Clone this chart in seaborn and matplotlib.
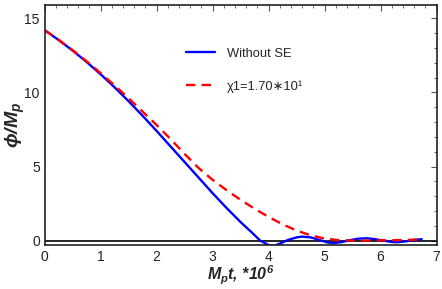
import numpy as np
import pandas as pd
import matplotlib
matplotlib.use('Agg')
import matplotlib.pyplot as plt
from matplotlib.ticker import MultipleLocator
import seaborn as sns

# values (t in units of 1e6 / M_p)
t_blue = [0, 0.25, 0.5, 0.75, 1.0, 1.25, 1.5, 1.75, 2.0, 2.25, 2.5, 2.75, 3.0, 3.25,
          3.5, 3.7, 3.85, 4.0, 4.1, 4.2, 4.35, 4.5, 4.6, 4.75, 4.9, 5.05, 5.15, 5.3,
          5.45, 5.6, 5.75, 5.9, 6.05, 6.2, 6.3, 6.45, 6.6, 6.75]
phi_blue = [14.2, 13.53, 12.82, 12.05, 11.22, 10.34, 9.4, 8.42, 7.4, 6.35, 5.3, 4.25,
            3.2, 2.2, 1.25, 0.55, 0.0, -0.3, -0.35, -0.2, 0.05, 0.22, 0.27, 0.22, 0.05,
            -0.12, -0.17, -0.1, 0.03, 0.13, 0.16, 0.1, 0.0, -0.09, -0.11, -0.05, 0.05, 0.1]

t_red = [0, 0.25, 0.5, 0.75, 1.0, 1.25, 1.5, 1.75, 2.0, 2.25, 2.5, 2.75, 3.0, 3.25,
         3.5, 3.75, 4.0, 4.25, 4.5, 4.75, 5.0, 5.25, 5.5, 5.75, 6.0, 6.25, 6.5, 6.75]
phi_red = [14.2, 13.55, 12.85, 12.1, 11.3, 10.47, 9.6, 8.7, 7.8, 6.85, 5.85, 4.9, 4.1,
           3.4, 2.75, 2.15, 1.6, 1.1, 0.68, 0.36, 0.14, 0.03, 0.0, 0.0, 0.02, 0.03, 0.05, 0.08]

labels = ['Without SE', 'χ1=1.70∗10¹']
colors = ['#0000ff', '#ff0000']

df = pd.concat([
    pd.DataFrame({'t': t_blue, 'phi': phi_blue, 'case': labels[0]}),
    pd.DataFrame({'t': t_red, 'phi': phi_red, 'case': labels[1]}),
])

sns.set_theme(style='white')
plt.rcParams['font.family'] = ['Liberation Sans', 'DejaVu Sans']
plt.rcParams['mathtext.fontset'] = 'custom'
plt.rcParams['mathtext.it'] = 'Liberation Sans:italic:bold'
plt.rcParams['mathtext.rm'] = 'Liberation Sans:italic:bold'
plt.rcParams['mathtext.bf'] = 'Liberation Sans:italic:bold'

fig = plt.figure(figsize=(4.42, 2.89), dpi=100)
ax = fig.add_axes([0.101, 0.152, 0.888, 0.831])

sns.lineplot(data=df, x='t', y='phi', hue='case', style='case', palette=colors,
             dashes=[(1, 0), (4, 2.6)], linewidth=1.7, sort=False, ax=ax, legend=False)

# axis line at phi = 0
ax.axhline(0, color='black', linewidth=1.2, zorder=1)

ax.set_xlim(0, 7.01)
ax.set_ylim(-0.3, 15.9)
ax.xaxis.set_major_locator(MultipleLocator(1))
ax.xaxis.set_minor_locator(MultipleLocator(0.2))
ax.yaxis.set_major_locator(MultipleLocator(5))
ax.yaxis.set_minor_locator(MultipleLocator(1))
ax.tick_params(which='both', direction='in', top=True, right=True,
               labelsize=10, labelcolor='#222222', color='#555555')
ax.tick_params(which='major', length=4, width=0.8)
ax.tick_params(which='minor', length=2, width=0.6)
for s in ax.spines.values():
    s.set_color('#222222')
    s.set_linewidth(1.2)

ax.set_xlabel(r'$M_pt$, *10$^6$', fontsize=11.5, fontweight='bold', style='italic')
ax.xaxis.set_label_coords(0.5, -0.078)
ax.set_ylabel(r'$\phi/M_p$', fontsize=14, fontweight='bold', style='italic')
ax.yaxis.set_label_coords(-0.045, 0.5)

handles = [plt.Line2D([], [], color=colors[0], lw=1.7),
           plt.Line2D([], [], color=colors[1], lw=1.7, ls=(0, (4, 2.6)))]
ax.legend(handles, labels, loc='upper left', bbox_to_anchor=(0.33, 0.87), frameon=False,
          fontsize=9.3, handlelength=2.3, labelspacing=1.6, handletextpad=0.9)

fig.savefig('out.png', dpi=100)
